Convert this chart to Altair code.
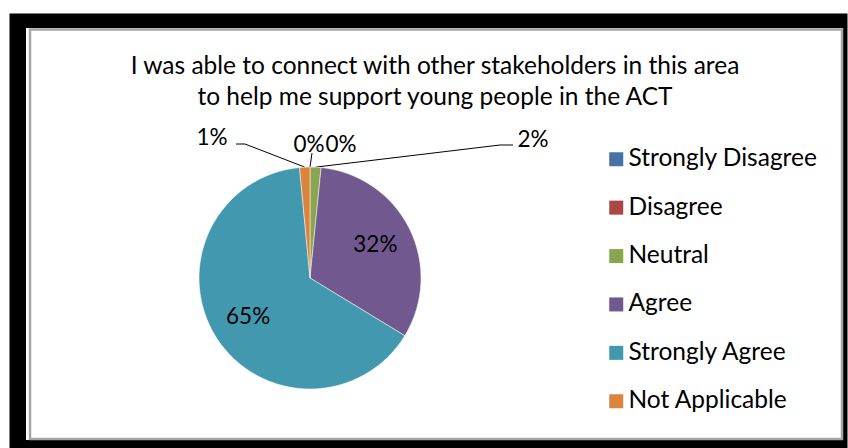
import math
import altair as alt
import pandas as pd

# ---------------- data ----------------
categories = ["Strongly Disagree", "Disagree", "Neutral", "Agree",
              "Strongly Agree", "Not Applicable"]
values = [0, 0, 1.6, 32.1, 64.8, 1.5]
pct_labels = ["0%", "0%", "2%", "32%", "65%", "1%"]
colors = ["#4572A7", "#AA4643", "#89A54E", "#71588F", "#4198AF", "#DB843D"]
title_lines = ["I was able to connect with other stakeholders in this area",
               "to help me support young people in the ACT"]

# ---------------- layout ----------------
W, H = 838, 435            # black framed area (view)
CX, CY, R = 301, 265, 111  # pie centre / radius inside view
FONT = "Lato"
FS = 22.5
TFS = 24.5

df = pd.DataFrame({"idx": range(len(categories)), "category": categories,
                   "value": values, "label": pct_labels})
df["inner"] = [l if v >= 10 else "" for l, v in zip(pct_labels, values)]

# mid angle of each slice (clockwise from 12 o'clock)
total = sum(values)
mid, cum = [], 0.0
for v in values:
    mid.append((cum + v / 2) / total * 2 * math.pi)
    cum += v


def edge(i):
    a = mid[i]
    return CX + R * math.sin(a), CY - R * math.cos(a)


# outside label placement (annotation layout)
outer_pos = {"Strongly Disagree": (300, 132), "Disagree": (332, 132),
             "Neutral": (524, 127), "Not Applicable": (203, 124.5)}
leader_start = {"Strongly Disagree": [(303, 140)],
                "Neutral": [(504, 132), (491, 132)],
                "Not Applicable": [(227, 131), (236, 131)]}

outer_rows = []
for i, c in enumerate(categories):
    if c in outer_pos:
        outer_rows.append({"category": c, "label": pct_labels[i],
                           "px": outer_pos[c][0], "py": outer_pos[c][1]})
outer_df = pd.DataFrame(outer_rows)

line_rows = []
for i, c in enumerate(categories):
    if c in leader_start:
        pts = leader_start[c] + [edge(i)]
        for k, (px, py) in enumerate(pts):
            line_rows.append({"line": c, "ord": k, "px": px, "py": py})
line_df = pd.DataFrame(line_rows)

xs = alt.Scale(domain=[0, W], range=[0, W])
ys = alt.Scale(domain=[0, H], range=[0, H])

one = pd.DataFrame({"k": [0]})

strip = alt.Chart(one).mark_rect(fill="white").encode(
    x=alt.value(17), x2=alt.value(834), y=alt.value(15), y2=alt.value(427))
frame = alt.Chart(one).mark_rect(fill="white", stroke="#a6a6a6", strokeWidth=2.5).encode(
    x=alt.value(21), x2=alt.value(833), y=alt.value(16.5), y2=alt.value(426))

arc = alt.Chart(df).mark_arc(radius=R, stroke="white", strokeWidth=0.5).encode(
    theta=alt.Theta("value:Q", stack=True),
    color=alt.Color("category:N", sort=categories,
                    scale=alt.Scale(domain=categories, range=colors),
                    legend=alt.Legend(orient="none", legendX=595, legendY=134,
                                      title=None, symbolType="square",
                                      symbolSize=196, symbolStrokeWidth=0,
                                      labelFont=FONT, labelFontSize=TFS,
                                      labelOffset=0, rowPadding=23.4, padding=0,
                                      labelColor="black", labelLimit=400)),
    order=alt.Order("idx:Q"),
    x=alt.value(CX), y=alt.value(CY),
)

inner = alt.Chart(df).mark_text(radius=73, font=FONT, fontSize=FS, color="black").encode(
    theta=alt.Theta("value:Q", stack=True),
    order=alt.Order("idx:Q"),
    text="inner:N",
    x=alt.value(CX), y=alt.value(CY),
)

outer = alt.Chart(outer_df).mark_text(font=FONT, fontSize=FS, color="black",
                                      baseline="middle").encode(
    x=alt.X("px:Q", scale=xs, axis=None),
    y=alt.Y("py:Q", scale=ys, axis=None),
    text="label:N",
)

lines = alt.Chart(line_df).mark_line(color="black", strokeWidth=1).encode(
    x=alt.X("px:Q", scale=xs, axis=None),
    y=alt.Y("py:Q", scale=ys, axis=None),
    detail="line:N",
    order="ord:Q",
)

title = alt.Chart(one).mark_text(font=FONT, fontSize=TFS, color="black",
                                 lineHeight=31, baseline="alphabetic",
                                 align="center").encode(
    x=alt.value(426), y=alt.value(61), text=alt.value(title_lines))

chart = alt.layer(strip, frame, lines, arc, inner, outer, title).properties(
    width=W, height=H,
    padding={"left": 9, "top": 13, "right": 1, "bottom": 0},
    autosize=alt.AutoSizeParams(type="none"),
    background="white",
).configure_view(fill="black", stroke="transparent")

chart.save("out.html", embed_options={"renderer": "svg", "actions": False})
